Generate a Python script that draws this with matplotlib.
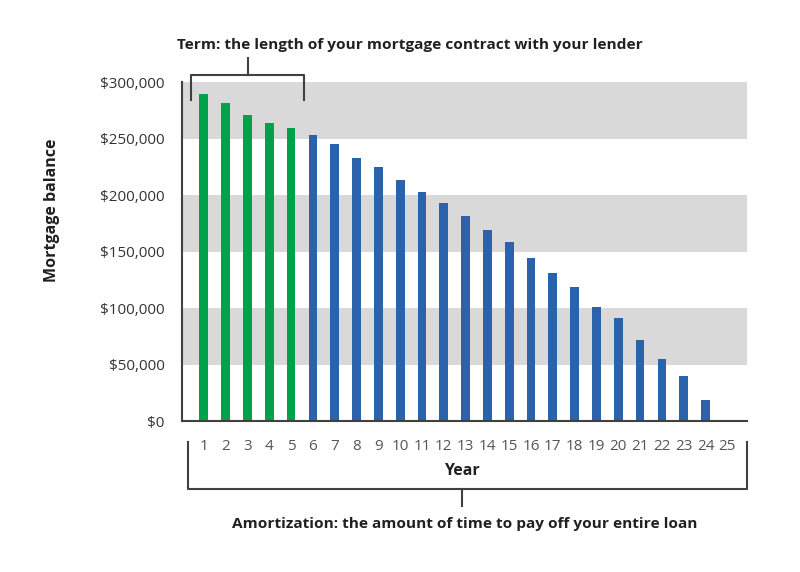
import matplotlib
matplotlib.use('Agg')
from matplotlib import pyplot as plt
from matplotlib.lines import Line2D
from matplotlib.ticker import FuncFormatter
import numpy as np

years = list(range(1, 26))
balance = [289000, 281000, 271000, 264000, 259000, 253000, 245000, 233000,
           225000, 213000, 203000, 193000, 181000, 169000, 158000, 144000,
           131000, 119000, 101000, 91000, 72000, 55000, 40000, 19000, 0]
term_years = 5
y_ticks = [0, 50000, 100000, 150000, 200000, 250000, 300000]
bands = [(50000, 100000), (150000, 200000), (250000, 300000)]

green = '#00a14b'
blue = '#2a62ab'
band_col = '#d9d9d9'
dark = '#231f20'
line_col = '#404040'
font = 'Open Sans'

W, H = 800, 572
fig = plt.figure(figsize=(W / 100, H / 100), dpi=100)
ax = fig.add_axes([182 / W, 1 - 421 / H, (747 - 182) / W, (421 - 82) / H])

for lo, hi in bands:
    ax.axhspan(lo, hi, color=band_col, lw=0, zorder=0)

colors = [green if y <= term_years else blue for y in years]
ax.bar(years, balance, width=0.4, color=colors, zorder=2)

ax.set_xlim(0, 25.9)
ax.set_ylim(0, 300000)
ax.set_xticks(years)
ax.set_yticks(y_ticks)
ax.yaxis.set_major_formatter(FuncFormatter(lambda v, p: '${:,.0f}'.format(v)))
ax.tick_params(length=0)
ax.tick_params(axis='y', pad=12.5, labelsize=11, labelcolor='#333333')
ax.tick_params(axis='x', pad=13, labelsize=11, labelcolor='#555555')
for lab in ax.get_xticklabels() + ax.get_yticklabels():
    lab.set_family(font)

for s in ['top', 'right']:
    ax.spines[s].set_visible(False)
for s in ['left', 'bottom']:
    ax.spines[s].set_color(line_col)
    ax.spines[s].set_linewidth(1.5)


def px(x, y):
    return x / W, 1 - y / H


def seg(points):
    xs, ys = zip(*[px(x, y) for x, y in points])
    fig.add_artist(Line2D(xs, ys, color=line_col, lw=1.5,
                          transform=fig.transFigure))


# term bracket
seg([(191, 100), (191, 75), (304, 75), (304, 100)])
seg([(248, 75), (248, 58)])
# amortization bracket
seg([(188, 442), (188, 489), (747, 489), (747, 442)])
seg([(462, 489), (462, 506)])

fig.text(*px(410, 45), 'Term: the length of your mortgage contract with your lender',
         ha='center', va='center', fontsize=11.1, fontweight='bold',
         family=font, color=dark)
fig.text(*px(462, 471), 'Year', ha='center', va='center', fontsize=11.5,
         fontweight='bold', family=font, color=dark)
fig.text(*px(465, 524), 'Amortization: the amount of time to pay off your entire loan',
         ha='center', va='center', fontsize=11.1, fontweight='bold',
         family=font, color=dark)
fig.text(*px(52, 210), 'Mortgage balance', ha='center', va='center',
         rotation=90, fontsize=11.5, fontweight='bold', family=font, color=dark)

fig.savefig('out.png', dpi=100, facecolor='white')
